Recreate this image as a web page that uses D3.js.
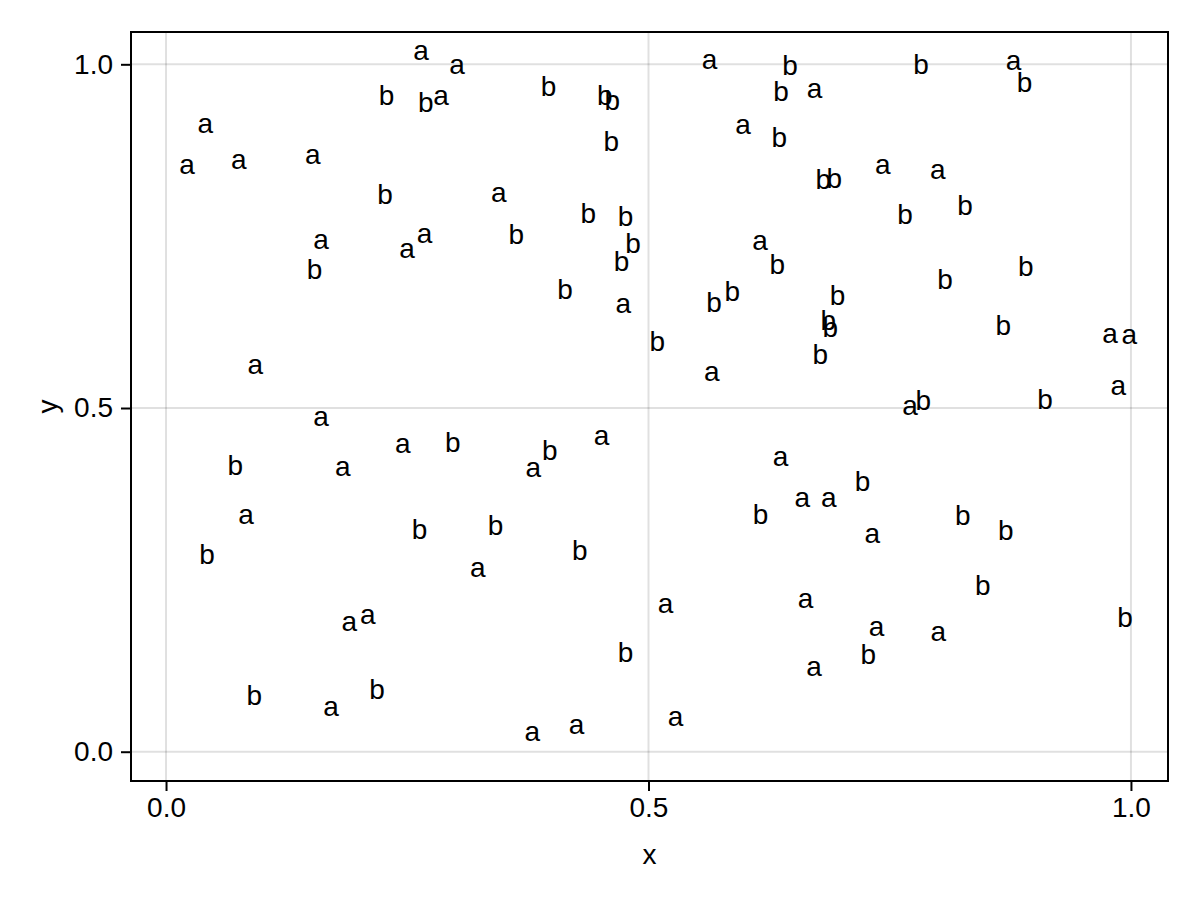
<!DOCTYPE html>
<html>
<head>
<meta charset="utf-8">
<script src="https://cdn.jsdelivr.net/npm/d3@7"></script>
<style>
  html, body { margin: 0; padding: 0; background: #fff; }
  svg { display: block; font-family: "Liberation Sans", Arial, "DejaVu Sans", sans-serif; }
</style>
</head>
<body>
<svg id="chart" width="1200" height="900"></svg>
<script>
// ---- data ----
const aX = [0.2644,0.3017,0.2851,0.0407,0.0218,0.0754,0.1521,0.3449,0.1607,0.2678,0.2499,0.0926,0.1607,0.1832,0.2454,0.3805,0.4513,0.0829,0.3230,0.1900,0.2091,0.1711,0.3795,0.4254,0.5280,0.5177,0.5633,0.5979,0.6155,0.4738,0.5656,0.6722,0.7427,0.7997,0.8782,0.6369,0.6594,0.6869,0.7320,0.6628,0.7364,0.8004,0.6715,0.7711,0.9784,0.9984,0.9870];
const aY = [1.0169,0.9971,0.9510,0.9113,0.8516,0.8579,0.8651,0.8103,0.7415,0.7502,0.7294,0.5596,0.4844,0.4117,0.4457,0.4102,0.4568,0.3414,0.2643,0.1862,0.1960,0.0626,0.0262,0.0359,0.0480,0.2130,1.0044,0.9088,0.7400,0.6484,0.5495,0.9622,0.8516,0.8433,1.0019,0.4262,0.3666,0.3669,0.3148,0.2203,0.1789,0.1717,0.1207,0.5000,0.6058,0.6033,0.5291];
const bX = [0.2284,0.2693,0.3964,0.4548,0.4624,0.4614,0.2271,0.4375,0.4762,0.3629,0.4839,0.4721,0.1538,0.4134,0.5091,0.0719,0.2973,0.3978,0.2626,0.3414,0.4289,0.0425,0.4762,0.0916,0.2188,0.6467,0.7825,0.8896,0.6373,0.6356,0.6812,0.6926,0.7659,0.8281,0.6335,0.5679,0.5868,0.6960,0.6864,0.6884,0.6781,0.8074,0.8909,0.8678,0.7849,0.9110,0.7219,0.6162,0.8256,0.8702,0.8464,0.7278,0.9940];
const bY = [0.9558,0.9452,0.9680,0.9549,0.9476,0.8884,0.8118,0.7837,0.7789,0.7527,0.7405,0.7134,0.7018,0.6727,0.5970,0.4166,0.4505,0.4393,0.3244,0.3294,0.2939,0.2880,0.1450,0.0820,0.0917,0.9994,1.0009,0.9743,0.9607,0.8943,0.8331,0.8346,0.7827,0.7958,0.7095,0.6542,0.6698,0.6640,0.6280,0.6178,0.5786,0.6881,0.7061,0.6203,0.5116,0.5135,0.3938,0.3454,0.3439,0.3221,0.2421,0.1426,0.1960];
const xTicks = [0.0, 0.5, 1.0];
const yTicks = [0.0, 0.5, 1.0];
const xLabel = "x";
const yLabel = "y";
const xDomain = [-0.0363, 1.0384];
const yDomain = [-0.0426, 1.0470];

// ---- layout ----
const svg = d3.select("#chart");
const L = 131, R = 1168, T = 32, B = 781;
const x = d3.scaleLinear().domain(xDomain).range([L, R]);
const y = d3.scaleLinear().domain(yDomain).range([B, T]);
const fontSize = 28;
const markerSize = 28;

// grid
const grid = svg.append("g");
grid.selectAll("line.gx").data(xTicks).join("line")
  .attr("x1", d => x(d)).attr("x2", d => x(d)).attr("y1", T).attr("y2", B)
  .attr("stroke", "rgba(0,0,0,0.12)").attr("stroke-width", 2);
grid.selectAll("line.gy").data(yTicks).join("line")
  .attr("y1", d => y(d)).attr("y2", d => y(d)).attr("x1", L).attr("x2", R)
  .attr("stroke", "rgba(0,0,0,0.12)").attr("stroke-width", 2);

// axes
const fmt = d3.format(".1f");
const xAxis = d3.axisBottom(x).tickValues(xTicks).tickFormat(fmt).tickSizeOuter(0).tickSizeInner(10).tickPadding(6);
const yAxis = d3.axisLeft(y).tickValues(yTicks).tickFormat(fmt).tickSizeOuter(0).tickSizeInner(10).tickPadding(8);
const gx = svg.append("g").attr("transform", `translate(0,${B})`).call(xAxis);
const gy = svg.append("g").attr("transform", `translate(${L},0)`).call(yAxis);
[gx, gy].forEach(g => {
  g.select(".domain").remove();
  g.selectAll(".tick line").attr("stroke", "#000").attr("stroke-width", 2);
  g.selectAll(".tick text").attr("fill", "#000").style("font-size", fontSize + "px")
    .style("font-family", '"Liberation Sans", Arial, sans-serif');
});

// plotted text markers
const pts = [];
aX.forEach((v, i) => pts.push({ x: v, y: aY[i], t: "a" }));
bX.forEach((v, i) => pts.push({ x: v, y: bY[i], t: "b" }));
const centerDy = { a: 0.265, b: 0.36 };
svg.append("g").selectAll("text").data(pts).join("text")
  .attr("x", d => x(d.x))
  .attr("y", d => y(d.y))
  .attr("dy", d => centerDy[d.t] + "em")
  .attr("text-anchor", "middle")
  .style("font-size", markerSize + "px")
  .attr("fill", "#000")
  .text(d => d.t);

// frame
svg.append("rect").attr("x", L).attr("y", T).attr("width", R - L).attr("height", B - T)
  .attr("fill", "none").attr("stroke", "#000").attr("stroke-width", 2);

// axis labels
svg.append("text").attr("x", (L + R) / 2).attr("y", 864).attr("text-anchor", "middle")
  .style("font-size", fontSize + "px").attr("fill", "#000").text(xLabel);
svg.append("text").attr("transform", `translate(57,${(T + B) / 2}) rotate(-90)`).attr("text-anchor", "middle")
  .style("font-size", fontSize + "px").attr("fill", "#000").text(yLabel);
</script>
</body>
</html>
